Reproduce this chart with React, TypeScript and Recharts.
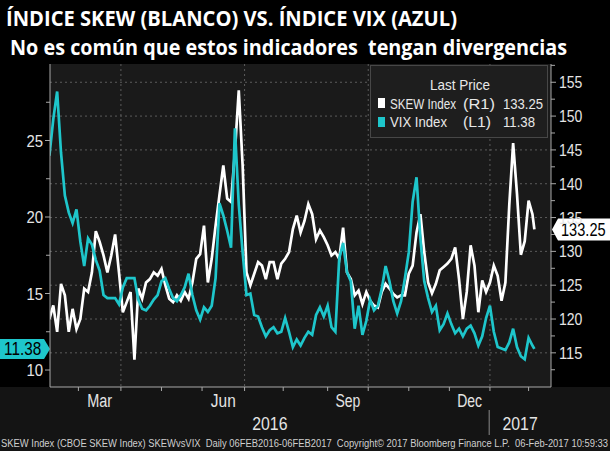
import React from "react";
import { CartesianGrid, Line, LineChart, ReferenceLine, XAxis, YAxis } from "recharts";

// every 2nd trading day from 08-Feb-2016 (day 0), last point 06-Feb-2017
const VIX = [
  24.0, 26.4, 28.2, 24.2, 21.4, 20.3, 19.6, 20.5, 18.4, 16.8, 18.6,
  18.2, 17.2, 16.5, 14.9, 14.7, 14.7, 14.7, 14.3, 15.4, 16.0, 16.0,
  16.0, 14.6, 14.0, 13.9, 14.2, 14.6, 14.9, 15.8, 16.0, 15.3, 14.7,
  14.5, 14.9, 15.4, 16.3, 14.9, 13.9, 13.3, 14.1, 13.8, 14.2, 16.0,
  20.9, 20.1, 19.1, 18.0, 25.8, 20.8, 17.7, 14.9, 15.0, 13.6, 13.5,
  12.8, 12.2, 12.6, 12.8, 12.4, 12.5, 13.4, 12.5, 11.5, 12.0, 11.6,
  12.1, 12.5, 12.3, 13.6, 14.1, 13.5, 14.2, 12.8, 12.5, 17.3, 18.3,
  16.4, 15.8, 12.7, 14.2, 12.3, 13.2, 14.6, 13.9, 14.2, 15.3, 16.8,
  15.8, 14.5, 13.7, 14.5, 16.0, 17.7, 21.0, 22.6, 18.6, 15.8, 14.7,
  13.8, 14.2, 12.6, 13.0, 13.7, 13.0, 12.4, 12.7, 12.2, 12.7, 12.9,
  12.4, 11.6, 12.2, 13.4, 14.2, 12.5, 11.5, 11.4, 11.3, 11.8, 12.7,
  11.5, 10.9, 10.7, 12.1, 11.6,
  11.38
];

const SKEW = [
  120.0, 122.0, 118.1, 125.2, 123.5, 118.1, 121.5, 118.5, 120.0, 124.5, 124.0,
  126.9, 133.0, 131.4, 129.4, 126.9, 129.4, 132.5, 126.9, 121.0, 122.5, 124.0,
  114.0, 124.5, 123.0, 125.4, 125.9, 126.9, 126.4, 127.4, 125.0, 123.0, 122.5,
  123.5, 122.7, 124.0, 123.0, 125.4, 128.9, 129.6, 133.8, 125.4, 128.9, 133.8,
  138.3, 142.7, 137.8, 137.3, 144.7, 153.8, 142.7, 126.9, 125.0, 126.7, 128.4,
  127.9, 125.9, 128.4, 128.4, 125.9, 128.2, 128.9, 129.9, 133.3, 135.3, 132.8,
  134.5, 137.0, 135.5, 131.8, 133.1, 132.1, 130.9, 129.4, 129.9, 128.9, 133.5,
  126.9, 125.9, 123.5, 124.2, 122.2, 124.0, 122.7, 122.0, 121.7, 124.0, 125.2,
  124.5, 123.7, 123.2, 123.5, 123.5, 126.7, 127.9, 132.8, 135.5, 129.9, 125.4,
  123.8, 125.2, 127.2, 127.7, 128.2, 128.9, 130.6, 125.9, 120.0, 124.0, 130.9,
  127.9, 121.0, 125.7, 124.0, 125.4, 127.9, 126.4, 122.7, 125.4, 136.8, 146.0,
  138.5, 129.5, 131.5, 137.5, 135.5,
  133.25
];

const LAST_DAY = 251;
const DAYS = VIX.map((_, i) => (i === VIX.length - 1 ? LAST_DAY : i * 2));

// trading-day positions for the time axis
const X_DOMAIN = [0.3, 259.6];
const MONTH_STARTS = [15, 37, 58, 79, 101, 121, 144, 165, 186, 207, 228, 248];
const MONTH_MID = [26, 90, 154.5, 217.5];
const MONTH_NAMES = ["Mar", "Jun", "Sep", "Dec"];
const QUARTER_STARTS = [37, 101, 165, 228];
const YEAR_BREAK = 227.6;
const YEAR_POS = [114.1, 243.6];
const YEAR_NAMES = ["2016", "2017"];

const VIX_DOMAIN = [8.89, 30.0];
const VIX_TICKS = [10, 12.5, 15, 17.5, 20, 22.5, 25, 27.5];
const SKEW_DOMAIN = [109.95, 157.7];
const SKEW_TICKS = [112.5, 115, 117.5, 120, 122.5, 125, 127.5, 130, 132.5, 135, 137.5, 140, 142.5, 145, 147.5, 150, 152.5, 155, 157.5];
const SKEW_GRID = [115, 120, 125, 130, 135, 140, 145, 150, 155];

const TITLE = "ÍNDICE SKEW (BLANCO) VS. ÍNDICE VIX (AZUL)";
const SUBTITLE = "No es común que estos indicadores  tengan divergencias";
const FOOTER =
  "SKEW Index (CBOE SKEW Index) SKEWvsVIX  Daily 06FEB2016-06FEB2017  Copyright© 2017 Bloomberg Finance L.P.  06-Feb-2017 10:59:33";

const data = DAYS.map((d, i) => ({ d, vix: VIX[i], skew: SKEW[i] }));
const lastVix = VIX[VIX.length - 1].toFixed(2);
const lastSkew = SKEW[SKEW.length - 1].toFixed(2);

const FONT = '"Liberation Sans", Arial, sans-serif';
const LABEL = "#e4e4e4";
const BORDER = "#a8a8a8";
const CYAN = "#1ec6cb";

// narrow Bloomberg-ish type: squeeze to a fixed width per glyph
function fit(s: string, digit = 8) {
  return s.split("").reduce((w, c) => w + (c === "." ? 3.6 : digit), 0);
}

function LeftTick({ x, y, payload }: any) {
  const v = payload.value;
  const major = v % 5 === 0;
  return (
    <g>
      <line x1={x - (major ? 5 : 4)} x2={x} y1={y} y2={y} stroke={BORDER} />
      {major && (
        <text x={x - 7} y={y + 6} textAnchor="end" fontSize={17} fill={LABEL} fontFamily={FONT}
          textLength={fit(String(v), 8.3)} lengthAdjust="spacingAndGlyphs">{v}</text>
      )}
    </g>
  );
}

function RightTick({ x, y, payload }: any) {
  const v = payload.value;
  const major = v % 5 === 0;
  return (
    <g>
      <line x1={x} x2={x + (major ? 5 : 4)} y1={y} y2={y} stroke={BORDER} />
      {major && (
        <text x={x + 8} y={y + 6} fontSize={17} fill={LABEL} fontFamily={FONT}
          textLength={fit(String(v), 7.8)} lengthAdjust="spacingAndGlyphs">{v}</text>
      )}
    </g>
  );
}

function MonthTick({ x, y, payload }: any) {
  const i = MONTH_MID.indexOf(payload.value);
  if (i < 0) return <line x1={x} x2={x} y1={y} y2={y + 4} stroke={BORDER} />;
  const name = MONTH_NAMES[i];
  return (
    <text x={x} y={y + 20} textAnchor="middle" fontSize={18} fill={LABEL} fontFamily={FONT}
      textLength={name.length * 8.3} lengthAdjust="spacingAndGlyphs">{name}</text>
  );
}

function YearTick({ x, y, payload }: any) {
  if (payload.value === YEAR_BREAK) return <line x1={x} x2={x} y1={y - 3} y2={y + 22} stroke="#8a8a8a" />;
  const name = YEAR_NAMES[YEAR_POS.indexOf(payload.value)];
  return (
    <text x={x} y={y + 17} textAnchor="middle" fontSize={19} fill={LABEL} fontFamily={FONT}
      textLength={name.length * 8.8} lengthAdjust="spacingAndGlyphs">{name}</text>
  );
}

function SkewTag({ viewBox }: any) {
  const r = viewBox.x + viewBox.width;
  const y = viewBox.y;
  return (
    <g>
      <path d={`M${r + 1} ${y} L${r + 7} ${y - 11} H${r + 59} V${y + 11} H${r + 7} Z`} fill="#ffffff" />
      <text x={r + 10} y={y + 6.5} fontSize={18} fill="#000" fontFamily={FONT}
        textLength={fit(lastSkew, 8.2)} lengthAdjust="spacingAndGlyphs">{lastSkew}</text>
    </g>
  );
}

function VixTag({ viewBox }: any) {
  const l = viewBox.x;
  const y = viewBox.y;
  return (
    <g>
      <path d={`M${l} ${y} L${l - 6} ${y - 10} H${l - 50} V${y + 10} H${l - 6} Z`} fill={CYAN} />
      <text x={l - 46} y={y + 6.5} fontSize={18} fill="#000" fontFamily={FONT}
        textLength={fit(lastVix, 8.4)} lengthAdjust="spacingAndGlyphs">{lastVix}</text>
    </g>
  );
}

function LegendBox() {
  const t = { fontSize: 15, fill: "#e8e8e8", fontFamily: FONT, lengthAdjust: "spacingAndGlyphs" as const };
  return (
    <svg width={178} height={73} style={{ position: "absolute", left: 370, top: 65 }}>
      <rect x={0.5} y={0.5} width={177} height={72} fill="#1e1e1e" stroke="#474747" />
      <text {...t} x={90} y={25} textAnchor="middle" textLength={60}>Last Price</text>
      <rect x={8} y={33} width={7} height={10} fill="#ffffff" />
      <text {...t} x={20} y={43.5} textLength={66}>SKEW Index</text>
      <text {...t} x={93} y={43.5} textLength={32}>(R1)</text>
      <text {...t} x={133} y={43.5} textLength={40}>{lastSkew}</text>
      <rect x={8} y={52} width={7} height={10} fill={CYAN} />
      <text {...t} x={20} y={62} textLength={57}>VIX Index</text>
      <text {...t} x={93} y={62} textLength={28}>(L1)</text>
      <text {...t} x={133} y={62} textLength={32}>{lastVix}</text>
    </svg>
  );
}

export default function App() {
  return (
    <div style={{ position: "absolute", left: 0, top: 0, width: 610, height: 451, background: "#000", overflow: "hidden" }}>
      <div style={{ position: "absolute", left: 0, top: 387, width: 610, height: 64, background: "#141414" }} />
      <svg width={610} height={62} style={{ position: "absolute", left: 0, top: 0 }}>
        <text x={6} y={26} fontSize={22} fontWeight={700} fill="#fff" fontFamily='"Open Sans", sans-serif'
          textLength={451} lengthAdjust="spacingAndGlyphs">{TITLE}</text>
        <text x={10} y={55} fontSize={21} fontWeight={700} fill="#fff" fontFamily='"Open Sans", sans-serif'
          textLength={557} lengthAdjust="spacingAndGlyphs" style={{ whiteSpace: "pre" }}>{SUBTITLE}</text>
      </svg>
      <LineChart width={610} height={451} data={data} margin={{ top: 64, right: 0, bottom: 0, left: 0 }}
        style={{ position: "absolute", left: 0, top: 0 }}>
        <CartesianGrid xAxisId="d" yAxisId="skew" fill="#1a1a1a" fillOpacity={1} stroke="#5c5c5c"
          strokeDasharray="2 3" horizontalValues={SKEW_GRID} verticalValues={QUARTER_STARTS} />
        <XAxis xAxisId="d" dataKey="d" type="number" domain={X_DOMAIN} allowDataOverflow ticks={[...MONTH_STARTS, ...MONTH_MID]}
          interval={0} height={26} tickSize={0} tickMargin={0} tickLine={false} axisLine={{ stroke: BORDER }} tick={<MonthTick />} />
        <XAxis xAxisId="yr" dataKey="d" type="number" domain={X_DOMAIN} allowDataOverflow ticks={[YEAR_POS[0], YEAR_BREAK, YEAR_POS[1]]}
          interval={0} height={38} tickSize={0} tickMargin={0} tickLine={false} axisLine={false} tick={<YearTick />} />
        <XAxis xAxisId="top" dataKey="d" orientation="top" type="number" domain={X_DOMAIN} allowDataOverflow
          height={0} tick={false} tickLine={false} axisLine={{ stroke: BORDER }} />
        <YAxis yAxisId="vix" orientation="left" type="number" domain={VIX_DOMAIN} allowDataOverflow ticks={VIX_TICKS}
          interval={0} width={50} tickSize={0} tickMargin={0} tickLine={false} axisLine={{ stroke: BORDER }} tick={<LeftTick />} />
        <YAxis yAxisId="skew" orientation="right" type="number" domain={SKEW_DOMAIN} allowDataOverflow ticks={SKEW_TICKS}
          interval={0} width={59} tickSize={0} tickMargin={0} tickLine={false} axisLine={{ stroke: BORDER }} tick={<RightTick />} />
        <Line xAxisId="d" yAxisId="skew" dataKey="skew" type="linear" stroke="#ffffff" strokeWidth={2.7}
          dot={false} activeDot={false} isAnimationActive={false} />
        <Line xAxisId="d" yAxisId="vix" dataKey="vix" type="linear" stroke={CYAN} strokeWidth={2.7}
          dot={false} activeDot={false} isAnimationActive={false} />
        <ReferenceLine xAxisId="d" yAxisId="skew" y={SKEW[SKEW.length - 1]} strokeOpacity={0} label={<SkewTag />} />
        <ReferenceLine xAxisId="d" yAxisId="vix" y={VIX[VIX.length - 1]} strokeOpacity={0} label={<VixTag />} />
      </LineChart>
      <LegendBox />
      <svg width={610} height={14} style={{ position: "absolute", left: 0, top: 437 }}>
        <text x={1} y={10} fontSize={10} fill="#cfcfcf" fontFamily={FONT} textLength={607}
          lengthAdjust="spacingAndGlyphs" style={{ whiteSpace: "pre" }}>{FOOTER}</text>
      </svg>
    </div>
  );
}
